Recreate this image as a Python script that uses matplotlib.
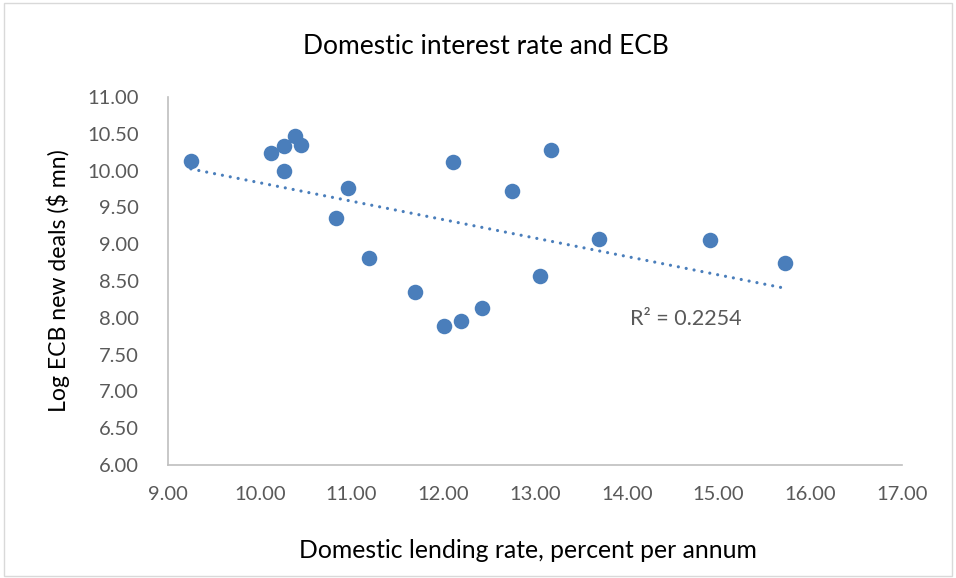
import matplotlib
matplotlib.use("Agg")
import matplotlib.pyplot as plt
import numpy as np

plt.rcParams['font.family'] = ['Lato', 'DejaVu Sans']

lending_rate = [9.25, 10.12, 10.26, 10.38, 10.45, 10.26, 10.96, 10.83, 11.19, 11.69,
                12.01, 12.19, 12.42, 12.11, 12.75, 13.17, 13.05, 13.70, 14.91, 15.72]
log_ecb = [10.13, 10.24, 10.33, 10.47, 10.35, 9.99, 9.76, 9.36, 8.81, 8.35,
           7.89, 7.96, 8.13, 10.12, 9.72, 10.28, 8.57, 9.07, 9.06, 8.74]
r2_label = "R² = 0.2254"
x_ticks = [9, 10, 11, 12, 13, 14, 15, 16, 17]
y_ticks = [6.0, 6.5, 7.0, 7.5, 8.0, 8.5, 9.0, 9.5, 10.0, 10.5, 11.0]

color = '#4A7EBB'
W, H = 956, 578

fig = plt.figure(figsize=(W/100, H/100), dpi=100)
ax = fig.add_axes([168/W, 1-465/H, (902-168)/W, (465-97)/H])

ax.scatter(lending_rate, log_ecb, s=125, color=color, zorder=3, linewidths=0)

x = np.array(lending_rate)
yv = np.array(log_ecb)
slope, intercept = np.polyfit(x, yv, 1)
xs = np.array([x.min(), x.max()])
ax.plot(xs, slope*xs + intercept, color=color, lw=2.3, linestyle=(0, (0.01, 2.5)),
        dash_capstyle='round', zorder=2)

ax.text(14.04, 7.98, r2_label, fontsize=15.5, color='#595959', ha='left', va='center')

ax.set_xlim(9, 17)
ax.set_ylim(6, 11)
ax.set_xticks(x_ticks)
ax.set_yticks(y_ticks)
ax.set_xticklabels([f"{v:.2f}" for v in x_ticks])
ax.set_yticklabels([f"{v:.2f}" for v in y_ticks])
ax.tick_params(axis='both', labelsize=14.5, colors='#595959', length=0)
ax.tick_params(axis='y', pad=21)
ax.tick_params(axis='x', pad=15)
for s in ['top', 'right']:
    ax.spines[s].set_visible(False)
for s in ['left', 'bottom']:
    ax.spines[s].set_color('#BFBFBF')
    ax.spines[s].set_linewidth(1.2)

fig.text(528/W, 1-550/H, "Domestic lending rate, percent per annum", fontsize=17.8,
         color='black', ha='center', va='center')
fig.text(58/W, 1-281/H, "Log ECB new deals (\\$ mn)", fontsize=16.6, color='black',
         ha='center', va='center', rotation=90)
fig.text(486/W, 1-46/H, "Domestic interest rate and ECB", fontsize=19, ha='center', va='center')

border = plt.Rectangle((0.004, 0.004), 0.992, 0.99, transform=fig.transFigure,
                       fill=False, edgecolor='#D9D9D9', lw=1)
fig.patches.append(border)

fig.savefig("out.png", dpi=100, facecolor='white')
